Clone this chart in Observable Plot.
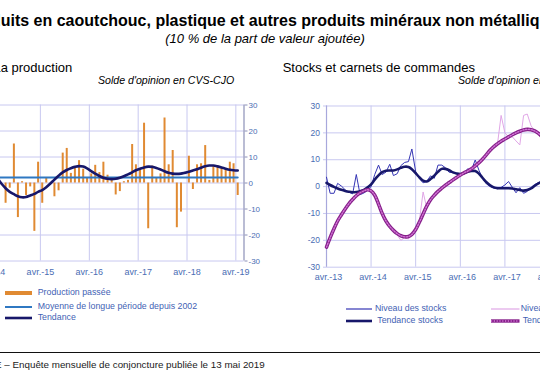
<!DOCTYPE html>
<html><head><meta charset="utf-8">
<script src="https://cdn.jsdelivr.net/npm/d3@7"></script>
<script src="https://cdn.jsdelivr.net/npm/@observablehq/plot@0.6"></script>
<style>
body{margin:0;background:#fff;}
#fig{position:relative;width:540px;height:377px;overflow:hidden;background:#fff;font-family:"Liberation Sans",Arial,sans-serif;}
.abs{position:absolute;white-space:pre;line-height:1;}
.chart{position:absolute;}
.chart svg{overflow:visible;max-width:none !important;}
</style></head><body><div id="fig"></div>
<script>
// ---------- Texts ----------
const titleText = "Produits en caoutchouc, plastique et autres produits minéraux non métalliques";
const subtitleText = "(10 % de la part de valeur ajoutée)";
const leftTitle = "La production";
const rightTitle = "Stocks et carnets de commandes";
const unitText = "Solde d'opinion en CVS-CJO";
const sourcePrefix = "Source : INSEE – ";
const sourceText = sourcePrefix + "Enquête mensuelle de conjoncture publiée le 13 mai 2019";
const leftLegend = ["Production passée", "Moyenne de longue période depuis 2002", "Tendance"];
const rightLegend = ["Niveau des stocks", "Tendance stocks", "Niveau des carnets", "Tendance carnets"];

// ---------- Axes ----------
const yTicks = [-30, -20, -10, 0, 10, 20, 30];
const yTickLabels = ["-30", "-20", "-10", "0", "10", "20", "30"];
const leftXTickDates = ["2014-04-01", "2015-04-01", "2016-04-01", "2017-04-01", "2018-04-01", "2019-04-01"];
const leftXTickLabels = ["avr.-14", "avr.-15", "avr.-16", "avr.-17", "avr.-18", "avr.-19"];
const rightXTickDates = ["2013-04-01", "2014-04-01", "2015-04-01", "2016-04-01", "2017-04-01", "2018-04-01"];
const rightXTickLabels = ["avr.-13", "avr.-14", "avr.-15", "avr.-16", "avr.-17", "avr.-18"];
const leftXDomain = ["2014-01-01", "2019-06-01"];
const rightXDomain = ["2013-04-01", "2019-06-01"];

// ---------- Left chart data (monthly) ----------
const productionStart = "2014-06-01";
const productionPassee = [0, -7.8, -2, 15, -13.3, 0.5, -4.8,
  -1.5, -18.6, 8, -7.8, 2, 0, -5.3, -3, 11.5, 13.3, 3.7, 5.6,
  8.6, 5.3, 2, 3.5, 6.8, 4, 8, 3, 1, -4.6, -3.3, 0.5,
  1, 14.8, 7, 5.5, 23, -17.6, 6.5, 2, 3.5, 25, 7, 12.5,
  -17.2, -11.2, 0, 10.3, -2.5, 7, 7.4, 14.4, 1, 6.7, 6.5, 6,
  5, 8, 7.4, -4.8];
const tendanceStart = "2014-05-01";
const tendanceProduction = [1.8, -0.3, -2, -3.4, -4.3, -5.1, -5.5, -5.4,
  -4.8, -4.2, -3.4, -2.7, -1.6, -0.2, 1.3, 2.8, 4.1, 5, 5.7, 6.2,
  6.5, 6.3, 5.6, 4.6, 3.6, 2.7, 2, 1.6, 1.5, 1.6, 2, 2.6,
  3.3, 4.1, 4.9, 5.5, 6, 6.3, 6.2, 5.8, 5.2, 4.5, 3.9, 3.6,
  3.5, 3.6, 3.9, 4.3, 4.8, 5.3, 5.9, 6.4, 6.7, 6.7, 6.4, 6,
  5.5, 5.1, 4.9, 4.8];
const moyenneLongue = 2.1;

// ---------- Right chart data (monthly from avr. 2013) ----------
const rightStart = "2013-04-01";
const niveauStocks = [3.5, -2.5, -2.5, 1.2, 0.2, -1.2, -2.1, -2.7, 4.5, -3,
  -2.4, -1.5, 0, 4.5, 8, 4.5, 5.4, 8.3, 4.1, 4.8,
  7.8, 9, 9.3, 14, 5.6, 3, 1.4, 2, 4, 3.1,
  8, 8, 7, 5.3, 5.2, 4.8, 4.2, 5.3, 6.6, 6.2,
  9.9, 6, 3, 1, 0, -0.6, -0.8, -0.3, 0.6, 1.9,
  -0.3, -2.3, -0.4, -2.5, -1.8, -0.3, 0.8, 1.5, 2];
const tendanceStocks = [1.4, 0.6, -0.1, -0.7, -1.2, -1.6, -1.9, -2.1, -2, -1.7,
  -1.2, -0.4, 0.8, 2.6, 4.2, 5.4, 5.9, 6, 6, 6.4,
  7, 7.4, 7.3, 6.5, 5, 3.5, 2.2, 1.9, 2.8, 4.1,
  5.5, 6.6, 6.6, 6.1, 5.3, 4.9, 4.7, 5, 5.5, 5.8,
  5.8, 4.8, 3.2, 1.6, 0.5, -0.3, -0.6, -0.6, -0.6, -0.6,
  -0.7, -1, -1.3, -1.5, -1.3, -0.7, 0.3, 1.2, 1.8];
const niveauCarnets = [-23, -18.5, -16, -12, -10, -8.5, -6, -5, -3, -2.5,
  -1, -0.5, -2, -2.5, -7, -10.5, -13.5, -14.5, -15.5, -18,
  -20, -19, -19.5, -17.5, -16.5, -13, -2, -8, -5, -3.5,
  -2, -1, 0.5, 2, 2, 3, 4.5, 5, 6, 6,
  7.5, 9, 10.5, 12, 13, 15, 16.5, 26.5, 20, 18.5,
  18.5, 17, 15.5, 26.5, 27, 22.7, 20.5, 19.5, 18];
const tendanceCarnets = [-22.5, -19, -15.7, -12.8, -10.5, -8.3, -6.4, -4.8, -3.4, -2.3,
  -1.6, -1.2, -1.6, -3.2, -6.5, -10, -12.8, -14.8, -16.3, -17.5,
  -18.3, -18.7, -18.6, -17.8, -16, -13.3, -10.2, -7.3, -4.9, -3.2,
  -1.8, -0.6, 0.5, 1.5, 2.5, 3.4, 4.3, 5.1, 5.8, 6.6,
  7.7, 8.9, 10.3, 11.9, 13.5, 14.9, 16, 16.9, 17.7, 18.5,
  19.3, 20, 20.6, 21.1, 21.3, 21.2, 20.7, 19.8, 18.5];

// ---------- Colours ----------
const ORANGE = "#e08a32", MEANBLUE = "#2f78c2", NAVY = "#17176a", GRID = "#c8c8f0",
      AXISGRAY = "#8c90b8", TICKBLUE = "#4a6db4", STOCKBLUE = "#3434b4", PINK = "#e0a6e6",
      PURPLE = "#86208a", PURPLEDOT = "#d276d6", LEGBLUE = "#3f62b4";
const FONT = "Liberation Sans, Arial, sans-serif";

// ---------- helpers ----------
const P = s => new Date(s + "T00:00:00Z");
const monthly = (start, values, midDay) => values.map((v, i) => {
  const d = d3.utcMonth.offset(P(start), i);
  return {date: midDay ? d3.utcDay.offset(d, 14) : d, value: v};
});
const labelOf = (dates, labels) => d => labels[dates.findIndex(s => +P(s) === +d)];
const yLabel = d => yTickLabels[yTicks.indexOf(d)];

const fig = document.getElementById("fig");
const ctx = document.createElement("canvas").getContext("2d");
function measure(txt, font) { ctx.font = font; return ctx.measureText(txt).width; }
function addText(txt, {left, top, size, weight = "normal", style = "normal", color = "#000"}) {
  const el = document.createElement("div");
  el.className = "abs";
  el.textContent = txt;
  Object.assign(el.style, {left: left + "px", top: top + "px", fontSize: size + "px",
    fontWeight: weight, fontStyle: style, color});
  fig.appendChild(el);
  return el;
}
const topFor = (baseline, size) => baseline - 0.85 * size;

// ---------- Titles ----------
const tSize = 16;
addText(titleText, {left: 0.7 - measure("Prod", `bold ${tSize}px ${FONT}`), top: topFor(27, tSize), size: tSize, weight: "bold"});
const sSize = 13;
const sW = measure(subtitleText, `italic ${sSize}px ${FONT}`);
addText(subtitleText, {left: 265 - sW / 2, top: topFor(43, sSize), size: sSize, style: "italic"});
const hSize = 13;
addText(leftTitle, {left: 0.7 - measure("L", `${hSize}px ${FONT}`), top: topFor(72.5, hSize), size: hSize});
addText(rightTitle, {left: 282.7, top: topFor(72.5, hSize), size: hSize});
const uSize = 10.6;
addText(unitText, {left: 98, top: topFor(84, uSize), size: uSize, style: "italic"});
addText(unitText, {left: 458, top: topFor(84, uSize), size: uSize, style: "italic"});

// ---------- Left chart ----------
const prodData = monthly(productionStart, productionPassee, true);
const trendData = monthly(tendanceStart, tendanceProduction, true);
const meanData = trendData.map(d => ({date: d.date, value: moyenneLongue}));
const leftTicks = leftXTickDates.map(P);

const leftPlot = Plot.plot({
  width: 314, height: 187.5,
  marginLeft: 20, marginRight: 29.5, marginTop: 9.5, marginBottom: 22,
  style: {background: "transparent", fontFamily: FONT, overflow: "visible"},
  x: {type: "utc", domain: leftXDomain.map(P)},
  y: {domain: [-30, 30]},
  marks: [
    Plot.gridX(leftTicks, {stroke: GRID, strokeOpacity: 1}),
    Plot.gridY(yTicks, {stroke: GRID, strokeOpacity: 1}),
    Plot.ruleX(prodData, {x: "date", y1: 0, y2: "value", stroke: ORANGE, strokeWidth: 2}),
    Plot.line(meanData, {x: "date", y: "value", stroke: MEANBLUE, strokeWidth: 2}),
    Plot.line(trendData, {x: "date", y: "value", stroke: NAVY, strokeWidth: 2.6, curve: "catmull-rom"}),
    Plot.ruleX([P(leftXDomain[1])], {stroke: AXISGRAY, strokeWidth: 1.2}),
    Plot.axisX(leftTicks, {tickSize: 0, tickPadding: 8, tickFormat: labelOf(leftXTickDates, leftXTickLabels), fill: TICKBLUE, fontSize: 9, label: null}),
    Plot.axisY(yTicks, {anchor: "right", tickSize: 3, tickPadding: 1.5, tickFormat: yLabel, fill: TICKBLUE, stroke: AXISGRAY, fontSize: 8, label: null})
  ]
});
const lw = document.createElement("div");
lw.className = "chart";
Object.assign(lw.style, {left: "-41.5px", top: "95px"});
lw.appendChild(leftPlot);
fig.appendChild(lw);

// ---------- Right chart ----------
const rTicks = rightXTickDates.map(P);
const sNiv = monthly(rightStart, niveauStocks, false);
const sTen = monthly(rightStart, tendanceStocks, false);
const cNiv = monthly(rightStart, niveauCarnets, false);
const cTen = monthly(rightStart, tendanceCarnets, false);

const rightPlot = Plot.plot({
  width: 311, height: 191.7,
  marginLeft: 26, marginRight: 10, marginTop: 10.5, marginBottom: 20,
  style: {background: "transparent", fontFamily: FONT, overflow: "visible"},
  x: {type: "utc", domain: rightXDomain.map(P)},
  y: {domain: [-30, 30]},
  marks: [
    Plot.gridX(rTicks, {stroke: GRID, strokeOpacity: 1}),
    Plot.gridY(yTicks, {stroke: GRID, strokeOpacity: 1}),
    Plot.ruleX([P(rightXDomain[0])], {stroke: "#a8a8dc", strokeWidth: 1.2}),
    Plot.line(sNiv, {x: "date", y: "value", stroke: STOCKBLUE, strokeWidth: 1}),
    Plot.line(cNiv, {x: "date", y: "value", stroke: PINK, strokeWidth: 1}),
    Plot.line(sTen, {x: "date", y: "value", stroke: NAVY, strokeWidth: 2.6, curve: "catmull-rom"}),
    Plot.line(cTen, {x: "date", y: "value", stroke: PURPLE, strokeWidth: 3.6, curve: "catmull-rom"}),
    Plot.line(cTen, {x: "date", y: "value", stroke: PURPLEDOT, strokeWidth: 1.4, strokeDasharray: "1.2,1.6", curve: "catmull-rom"}),
    Plot.axisX(rTicks, {tickSize: 0, tickPadding: 6, dx: 2, tickFormat: labelOf(rightXTickDates, rightXTickLabels), fill: TICKBLUE, fontSize: 9, label: null}),
    Plot.axisY(yTicks, {anchor: "left", tickSize: 3, tickPadding: 3.5, tickFormat: yLabel, fill: TICKBLUE, stroke: GRID, fontSize: 8.5, label: null})
  ]
});
const rw = document.createElement("div");
rw.className = "chart";
Object.assign(rw.style, {left: "300px", top: "95px"});
rw.appendChild(rightPlot);
fig.appendChild(rw);

// ---------- Legends ----------
function swatch(left, cy, width, color, thick, dotted) {
  const ns = "http://www.w3.org/2000/svg";
  const svg = document.createElementNS(ns, "svg");
  svg.setAttribute("width", width); svg.setAttribute("height", 8);
  Object.assign(svg.style, {position: "absolute", left: left + "px", top: (cy - 4) + "px", overflow: "visible"});
  const ln = document.createElementNS(ns, "line");
  ln.setAttribute("x1", 0); ln.setAttribute("x2", width); ln.setAttribute("y1", 4); ln.setAttribute("y2", 4);
  ln.setAttribute("stroke", color); ln.setAttribute("stroke-width", thick);
  svg.appendChild(ln);
  if (dotted) {
    const d2 = ln.cloneNode();
    d2.setAttribute("stroke", PURPLEDOT); d2.setAttribute("stroke-width", 1.4); d2.setAttribute("stroke-dasharray", "1.2,1.6");
    svg.appendChild(d2);
  }
  fig.appendChild(svg);
}
const lgSize = 8.8;
const legRow = (txt, left, cy) => addText(txt, {left, top: cy - 0.5 * lgSize - 0.5, size: lgSize, color: LEGBLUE});
swatch(5, 293.3, 27, ORANGE, 4);   legRow(leftLegend[0], 37.7, 293.3);
swatch(5, 307.3, 27, MEANBLUE, 2); legRow(leftLegend[1], 37.7, 307.3);
swatch(5, 318, 27, NAVY, 2.6);     legRow(leftLegend[2], 37.7, 318);
swatch(346, 309, 26, STOCKBLUE, 1.2); legRow(rightLegend[0], 375, 309);
swatch(346, 320.7, 26, NAVY, 2.6);    legRow(rightLegend[1], 377.3, 320.7);
swatch(490.7, 309, 28.5, PINK, 1.2);   legRow(rightLegend[2], 520.7, 309);
swatch(490.7, 320.7, 28.5, PURPLE, 3.4, true); legRow(rightLegend[3], 522.7, 320.7);

// ---------- Footer ----------
const rule = document.createElement("div");
Object.assign(rule.style, {position: "absolute", left: "0px", width: "540px", top: "352px", height: "0px", borderTop: "1.5px solid #111"});
fig.appendChild(rule);
const fSize = 9.8;
addText(sourceText, {left: 12.5 - measure(sourcePrefix, `${fSize}px ${FONT}`), top: topFor(368.5, fSize), size: fSize, color: "#1a1a1a"});
</script></body></html>
